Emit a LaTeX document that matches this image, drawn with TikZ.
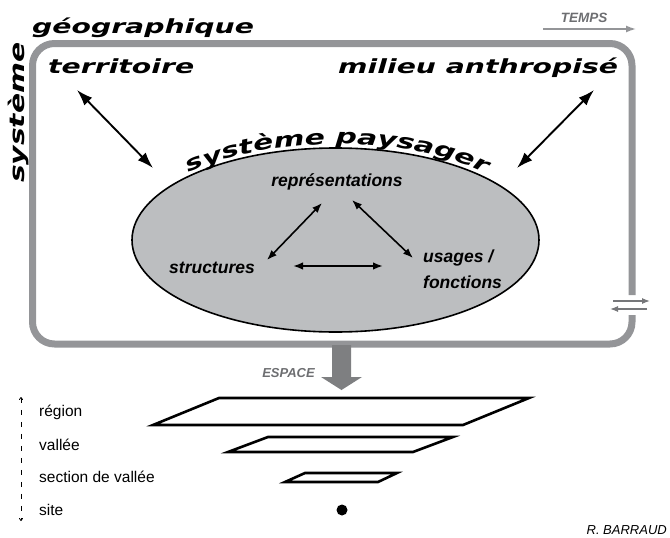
\documentclass[tikz,border=0pt]{standalone}
\usepackage{fontspec}
\setmainfont{Liberation Sans}
\newfontfamily\widefont[FakeStretch=1.45]{DejaVu Sans}
\usetikzlibrary{arrows.meta,decorations.text,shapes.geometric}
\definecolor{framegray}{RGB}{148,149,152}
\definecolor{ellgray}{RGB}{188,190,192}
\definecolor{txtgray}{RGB}{109,110,113}
\begin{document}
\begin{tikzpicture}[x=1pt,y=-1pt,
  bigtitle/.style={font=\widefont\bfseries\itshape\fontsize{19.5}{19.5}\selectfont, inner sep=0pt},
  innerlab/.style={font=\bfseries\itshape\fontsize{17.5}{26}\selectfont, inner sep=0pt},
  graylab/.style={font=\bfseries\itshape\fontsize{13}{13}\selectfont, text=txtgray, inner sep=0pt},
  scalelab/.style={font=\fontsize{15.5}{15.5}\selectfont, anchor=west, inner sep=0pt},
  bigarrow/.style={{Latex[length=16pt,width=11pt]}-{Latex[length=16pt,width=11pt]}, line width=1.9pt},
  smallarrow/.style={{Latex[length=10pt,width=7.5pt]}-{Latex[length=10pt,width=7.5pt]}, line width=1.6pt},
  grayarrow/.style={-{Latex[length=10pt,width=7pt]}, line width=1.4pt, draw=framegray, fill=framegray},
  thingray/.style={-{Latex[length=8pt,width=6pt]}, line width=1.2pt, draw=framegray!80!black, fill=framegray!80!black},
  plane/.style={draw=black, line width=2.6pt, line join=miter},
]
\useasboundingbox (0,0) rectangle (670,538);

% frame
\draw[framegray, line width=7pt, rounded corners=22pt]
  (632,295) -- (632,43.5) -- (32.5,43.5) -- (32.5,344) -- (632,344) -- (632,315);

% big titles
\node[bigtitle, anchor=base west] (geo) at (32,33) {géographique};
\node[bigtitle, anchor=base west, rotate=90, font=\widefont\bfseries\itshape\fontsize{20.5}{20.5}\selectfont] (sys) at (24,183) {système};
\node[bigtitle, anchor=base west] (terr) at (48,73) {territoire};
\node[bigtitle, anchor=base west] (mil) at (338,73) {milieu anthropisé};

% TEMPS
\node[graylab, font=\bfseries\itshape\fontsize{13.5}{13.5}\selectfont] (temps) at (584,18) {TEMPS};
\coordinate (t1) at (543,29);
\coordinate (t2) at (636,29);
\draw[grayarrow] (t1) -- (t2);

% gap arrows
\coordinate (g1) at (613,301);
\coordinate (g2) at (650,301);
\coordinate (g3) at (647,309);
\coordinate (g4) at (610,309);
\draw[thingray] (g1) -- (g2);
\draw[thingray] (g3) -- (g4);

% ellipse
\node[ellipse, draw=black, fill=ellgray, line width=1.6pt, minimum width=407pt, minimum height=184pt, inner sep=0pt] (ell) at (335.5,240) {};
\path[decorate, decoration={text along path, text align=center,
  text={|\widefont\bfseries\itshape\fontsize{20.5}{20.5}\selectfont|système paysager}}]
  (130.5,240) arc[start angle=180, end angle=360, x radius=207, y radius=96];

% outer arrows
\coordinate (a1) at (77,90);
\coordinate (a2) at (153,168);
\coordinate (b1) at (594,90);
\coordinate (b2) at (517,168);
\draw[bigarrow] (a1) -- (a2);
\draw[bigarrow] (b1) -- (b2);

% inner labels
\node[innerlab] (rep) at (337,182) {représentations};
\node[innerlab] (str) at (212,268) {structures};
\node[innerlab, anchor=west, align=left] (usa) at (423,269) {usages /\\fonctions};

\coordinate (r1) at (322,203);
\coordinate (s1) at (267,260);
\coordinate (r2) at (352,200);
\coordinate (u1) at (413,258);
\coordinate (s2) at (293,266);
\coordinate (u2) at (383,266);
\draw[smallarrow] (r1) -- (s1);
\draw[smallarrow] (r2) -- (u1);
\draw[smallarrow] (s2) -- (u2);

% ESPACE
\node[graylab, anchor=east] (esp) at (315,373) {ESPACE};
\fill[framegray!85!black] (332,345) -- (351,345) -- (351,377) -- (362,377) -- (341.5,390) -- (321,377) -- (332,377) -- cycle;

% planes
\draw[plane] (219,398) -- (529,398) -- (463,425) -- (153,425) -- cycle;
\draw[plane] (268,437) -- (453,437) -- (413,452) -- (228,452) -- cycle;
\draw[plane] (305,473) -- (397,473) -- (378,482) -- (285,482) -- cycle;
\fill[black] (342,510) circle[radius=5.5pt];

% scale labels
\node[scalelab] (reg) at (39,412) {région};
\node[scalelab] (val) at (39,445) {vallée};
\node[scalelab] (sec) at (39,477) {section de vallée};
\node[scalelab] (site) at (39,510) {site};
\coordinate (d1) at (21,397);
\coordinate (d2) at (21,521);
\draw[line width=0.8pt, dash pattern=on 5pt off 7pt, {To[length=3pt,width=4pt]}-{To[length=3pt,width=4pt]}] (d1) -- (d2);

\node[anchor=east, inner sep=0pt, font=\itshape\fontsize{13}{13}\selectfont] (auth) at (667,530) {R. BARRAUD};
\end{tikzpicture}
\end{document}
